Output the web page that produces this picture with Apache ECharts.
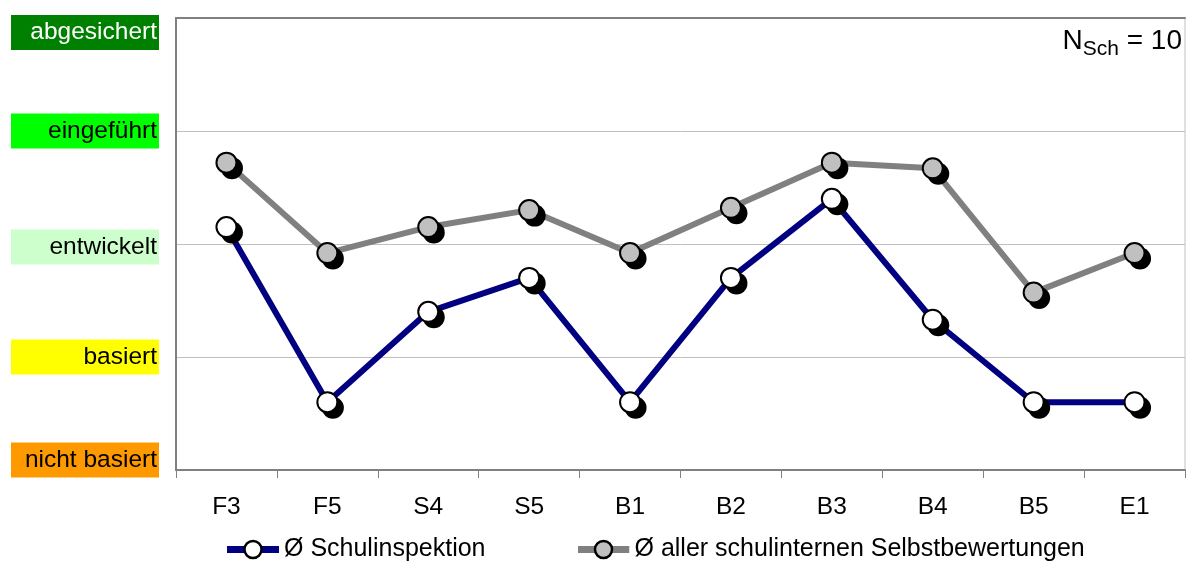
<!DOCTYPE html>
<html>
<head>
<meta charset="utf-8">
<script src="https://cdn.jsdelivr.net/npm/echarts@6/dist/echarts.min.js"></script>
<style>
  html, body { margin: 0; padding: 0; background: #fff; }
  #chart { width: 1186px; height: 563px; }
</style>
</head>
<body>
<div id="chart"></div>
<script>
// Criteria along the x axis
const categories = ['F3', 'F5', 'S4', 'S5', 'B1', 'B2', 'B3', 'B4', 'B5', 'E1'];

// Average ratings (1 = nicht basiert ... 5 = abgesichert)
const schulinspektion = [3.15, 1.6, 2.4, 2.7, 1.6, 2.7, 3.4, 2.33, 1.6, 1.6];
const selbstbewertungen = [3.72, 2.92, 3.15, 3.3, 2.92, 3.32, 3.72, 3.67, 2.57, 2.92];

const seriesNames = ['Ø Schulinspektion', 'Ø aller schulinternen Selbstbewertungen'];

// Rating levels on the y axis
const levelLabels = ['nicht basiert', 'basiert', 'entwickelt', 'eingeführt', 'abgesichert'];
const levelColors = ['#ff9900', '#ffff00', '#ccffcc', '#00ff00', '#008000'];
const levelTextColors = ['#000', '#000', '#000', '#000', '#fff'];

const FONT = 'Liberation Sans, Arial, sans-serif';

const rich = {
  up: { height: 29, lineHeight: 29, fontSize: 1 },
  up6: { height: 6, lineHeight: 6, fontSize: 1 },
  dn: { height: 20, lineHeight: 20, fontSize: 1 }
};
levelLabels.forEach((t, i) => {
  rich['l' + i] = {
    backgroundColor: levelColors[i],
    color: levelTextColors[i],
    width: 146,
    height: 35,
    lineHeight: 35,
    align: 'right',
    padding: [0, 2, 0, 0],
    fontSize: 24.5,
    fontFamily: FONT
  };
});

const svgURL = (svg) => 'image://data:image/svg+xml;charset=utf-8,' + encodeURIComponent(svg);

// Circle marker with a solid drop shadow to the lower right
function markerSymbol(fill) {
  return svgURL(
    '<svg xmlns="http://www.w3.org/2000/svg" width="30" height="30" viewBox="0 0 30 30">' +
    '<circle cx="17.5" cy="17.5" r="11" fill="#000"/>' +
    '<circle cx="12" cy="12" r="10" fill="' + fill + '" stroke="#000" stroke-width="2"/>' +
    '</svg>');
}

// Legend key: line segment with a centred circle
function legendSymbol(lineColor, fill) {
  return svgURL(
    '<svg xmlns="http://www.w3.org/2000/svg" width="52" height="22" viewBox="0 0 52 22">' +
    '<rect x="0" y="7.5" width="52" height="7" fill="' + lineColor + '"/>' +
    '<circle cx="26" cy="11" r="8.5" fill="' + fill + '" stroke="#000" stroke-width="2.5"/>' +
    '</svg>');
}

const chart = echarts.init(document.getElementById('chart'), null, { renderer: 'canvas' });

chart.setOption({
  animation: false,
  backgroundColor: '#fff',
  textStyle: { fontFamily: FONT },
  title: {
    right: 4,
    top: 23,
    padding: 0,
    text: '{n|N}{s|Sch}{n| = 10}',
    textStyle: {
      fontWeight: 'normal',
      rich: {
        n: { fontSize: 28, lineHeight: 36, color: '#000', fontWeight: 'normal', fontFamily: FONT },
        s: { fontSize: 21, height: 20, lineHeight: 20, verticalAlign: 'bottom', color: '#000', fontWeight: 'normal', fontFamily: FONT }
      }
    }
  },
  grid: {
    left: 176,
    right: 1,
    top: 18,
    bottom: 93,
    show: true,
    borderColor: '#c0c0c0',
    borderWidth: 1,
    containLabel: false,
    outerBoundsMode: 'none'
  },
  legend: {
    left: 227,
    top: 537,
    padding: 0,
    itemWidth: 52,
    itemHeight: 22,
    itemGap: 92,
    textStyle: { fontSize: 25, color: '#000', fontFamily: FONT },
    data: [
      { name: seriesNames[0], icon: legendSymbol('#000080', '#ffffff') },
      { name: seriesNames[1], icon: legendSymbol('#808080', '#c0c0c0') }
    ]
  },
  xAxis: [
    {
      type: 'category',
      data: categories,
      boundaryGap: true,
      position: 'bottom',
      axisLine: { lineStyle: { color: '#808080', width: 2 } },
      axisTick: { show: true, length: 8, lineStyle: { color: '#808080', width: 1 } },
      axisLabel: { interval: 0, fontSize: 24.5, color: '#000', margin: 25, fontFamily: FONT },
      splitLine: { show: false }
    },
    {
      type: 'category',
      data: categories,
      position: 'top',
      axisLine: { lineStyle: { color: '#808080', width: 2 } },
      axisTick: { show: false },
      axisLabel: { show: false },
      splitLine: { show: false }
    }
  ],
  yAxis: {
    type: 'value',
    min: 1,
    max: 5,
    interval: 1,
    axisLine: { show: true, lineStyle: { color: '#808080', width: 2 } },
    axisTick: { show: false },
    splitLine: { show: true, lineStyle: { color: '#c0c0c0', width: 1 } },
    axisLabel: {
      margin: 17,
      formatter: (v) => {
        const i = Math.round(v) - 1;
        const box = '{l' + i + '|' + levelLabels[i] + '}';
        if (i === 4) return '{up| }\n' + box;
        if (i === 0) return box + '\n{dn| }';
        if (i === 2) return '{up6| }\n' + box;
        return box;
      },
      rich: rich
    }
  },
  series: [
    {
      name: seriesNames[0],
      type: 'line',
      data: schulinspektion,
      symbol: markerSymbol('#ffffff'),
      symbolSize: 30,
      symbolOffset: [3, 3],
      lineStyle: { color: '#000080', width: 6 },
      itemStyle: { color: '#000080' },
      emphasis: { disabled: true },
      z: 3
    },
    {
      name: seriesNames[1],
      type: 'line',
      data: selbstbewertungen,
      symbol: markerSymbol('#c0c0c0'),
      symbolSize: 30,
      symbolOffset: [3, 3],
      lineStyle: { color: '#808080', width: 6 },
      itemStyle: { color: '#808080' },
      emphasis: { disabled: true },
      z: 2
    }
  ]
});
</script>
</body>
</html>
